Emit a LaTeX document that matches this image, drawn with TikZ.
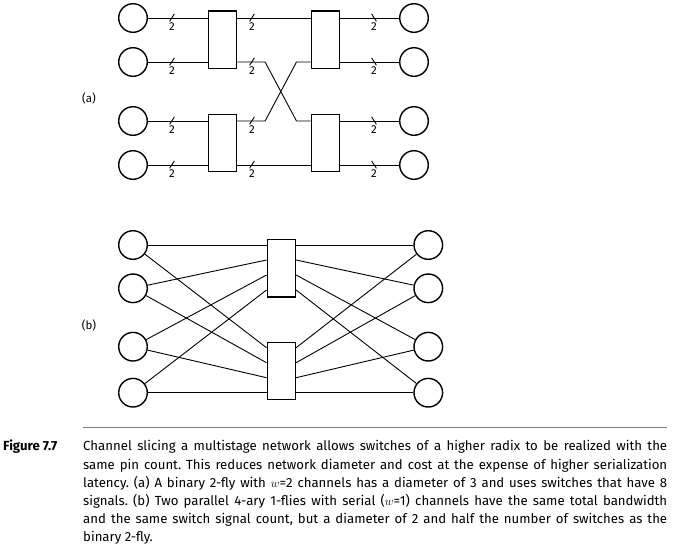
\documentclass[tikz,border=0pt]{standalone}
\usepackage{fontspec}
\setmainfont{Fira Sans}
\usetikzlibrary{calc}
\definecolor{WireBlack}{RGB}{0,0,0}
\definecolor{RuleGray}{RGB}{128,128,128}
\tikzset{
  endnode/.style={circle,draw=WireBlack,line width=1.4pt,minimum size=28.6pt,inner sep=0pt},
  switchnode/.style={rectangle,draw=WireBlack,fill=white,line width=1.4pt,minimum width=28.2pt,minimum height=57.4pt,inner sep=0pt},
  wire/.style={draw=WireBlack,line width=.9pt},
  tickline/.style={draw=WireBlack,line width=.9pt},
  busfwd/.style={font=\fontsize{11.5}{11.5}\selectfont,inner sep=0pt,anchor=north,
    append after command={([shift={(-2.4,-1.6)}]\tikzlastnode.north) edge[tickline] ([shift={(2.4,-9)}]\tikzlastnode.north)}},
  busbwd/.style={font=\fontsize{11.5}{11.5}\selectfont,inner sep=0pt,anchor=north,
    append after command={([shift={(-2.4,-9)}]\tikzlastnode.north) edge[tickline] ([shift={(2.4,-1.6)}]\tikzlastnode.north)}},
  partlabel/.style={font=\fontsize{11.5}{11.5}\selectfont,inner sep=0pt},
  figrule/.style={draw=RuleGray,line width=1.5pt},
  captext/.style={font=\fontsize{13.2}{18.2}\selectfont,inner sep=0pt,text width=584pt,align=justify},
  capnum/.style={font=\fontsize{13.2}{13.2}\selectfont\bfseries,inner sep=0pt}
}
\begin{document}
\frenchspacing
\begin{tikzpicture}[x=1pt,y=-1pt]
\useasboundingbox (0,0) rectangle (673,550);

% (a) binary 2-fly, w=2
\node[endnode] (a1) at (133,18) {};
\node[endnode] (a2) at (133,62) {};
\node[endnode] (a3) at (133,121) {};
\node[endnode] (a4) at (133,165) {};
\node[switchnode] (sw1) at (222.3,39.5) {};
\node[switchnode] (sw2) at (222.3,143) {};
\node[switchnode] (sw3) at (325.3,39.5) {};
\node[switchnode] (sw4) at (325.3,143) {};
\node[endnode] (b1) at (414,18) {};
\node[endnode] (b2) at (414,62) {};
\node[endnode] (b3) at (414,121) {};
\node[endnode] (b4) at (414,165) {};
\node[partlabel] (lbla) at (89,98) {(a)};

\draw[wire] (a1) -- (a1 -| sw1.west);
\draw[wire] (a2) -- (a2 -| sw1.west);
\draw[wire] (a3) -- (a3 -| sw2.west);
\draw[wire] (a4) -- (a4 -| sw2.west);
\draw[wire] (a1 -| sw1.east) -- (a1 -| sw3.west);
\draw[wire] (a4 -| sw2.east) -- (a4 -| sw4.west);
% Crossed links between the two stages.
\draw[wire] (a2 -| sw1.east) -- ++(28,0) -- ([xshift=-14pt]a3 -| sw4.west) -- (a3 -| sw4.west);
\draw[wire] (a3 -| sw2.east) -- ++(28,0) -- ([xshift=-14pt]a2 -| sw3.west) -- (a2 -| sw3.west);
\draw[wire] (a1 -| sw3.east) -- (b1);
\draw[wire] (a2 -| sw3.east) -- (b2);
\draw[wire] (a3 -| sw4.east) -- (b3);
\draw[wire] (a4 -| sw4.east) -- (b4);

% Channel width marks.
\node[busfwd] (w11) at (172,22.9) {2};
\node[busfwd] (w12) at (172,66.9) {2};
\node[busfwd] (w13) at (172,125.9) {2};
\node[busfwd] (w14) at (172,169.9) {2};
\node[busfwd] (w21) at (252,22.9) {2};
\node[busfwd] (w22) at (252,66.9) {2};
\node[busfwd] (w23) at (252,125.9) {2};
\node[busfwd] (w24) at (252,169.9) {2};
\node[busbwd] (w31) at (374,22.9) {2};
\node[busbwd] (w32) at (374,66.9) {2};
\node[busbwd] (w33) at (374,125.9) {2};
\node[busbwd] (w34) at (374,169.9) {2};

% (b) two parallel 4-ary 1-flies, w=1
\node[endnode] (p1) at (133,245) {};
\node[endnode] (p2) at (133,288.3) {};
\node[endnode] (p3) at (133,346.7) {};
\node[endnode] (p4) at (133,392.7) {};
\node[switchnode] (sx1) at (281.3,268.2) {};
\node[switchnode] (sx2) at (281.3,370.9) {};
\node[endnode] (q1) at (428.3,245) {};
\node[endnode] (q2) at (428.3,288.3) {};
\node[endnode] (q3) at (428.3,346.7) {};
\node[endnode] (q4) at (428.3,392.7) {};
\node[partlabel] (lblb) at (89,325) {(b)};

\draw[wire] (p1) -- ([yshift=-6.2pt]sx1.north west);
\draw[wire] (p2) -- ([yshift=-21.2pt]sx1.north west);
\draw[wire] (p3) -- ([yshift=-36.2pt]sx1.north west);
\draw[wire] (p4) -- ([yshift=-51.2pt]sx1.north west);
\draw[wire] (p1) -- ([yshift=-6.2pt]sx2.north west);
\draw[wire] (p2) -- ([yshift=-21.2pt]sx2.north west);
\draw[wire] (p3) -- ([yshift=-36.2pt]sx2.north west);
\draw[wire] (p4) -- ([yshift=-51.2pt]sx2.north west);
\draw[wire] ([yshift=-6.2pt]sx1.north east) -- (q1);
\draw[wire] ([yshift=-21.2pt]sx1.north east) -- (q2);
\draw[wire] ([yshift=-36.2pt]sx1.north east) -- (q3);
\draw[wire] ([yshift=-51.2pt]sx1.north east) -- (q4);
\draw[wire] ([yshift=-6.2pt]sx2.north east) -- (q1);
\draw[wire] ([yshift=-21.2pt]sx2.north east) -- (q2);
\draw[wire] ([yshift=-36.2pt]sx2.north east) -- (q3);
\draw[wire] ([yshift=-51.2pt]sx2.north east) -- (q4);

% Caption.
\draw[figrule] (82.7,427.3) -- (666.5,427.3);
\node[capnum,anchor=base west] (fignum) at (3,450) {Figure 7.7};
\node[captext,anchor=north west] (cap) at (83,440.4) {Channel slicing a multistage network allows switches of a higher radix to be realized with the\linebreak
same pin count. This reduces network diameter and cost at the expense of higher serialization\linebreak
latency. (a) A binary 2-fly with $w$=2 channels has a diameter of 3 and uses switches that have 8\linebreak
signals. (b) Two parallel 4-ary 1-flies with serial ($w$=1) channels have the same total bandwidth\linebreak
and the same switch signal count, but a diameter of 2 and half the number of switches as the\linebreak
binary 2-fly.};
\end{tikzpicture}
\end{document}
